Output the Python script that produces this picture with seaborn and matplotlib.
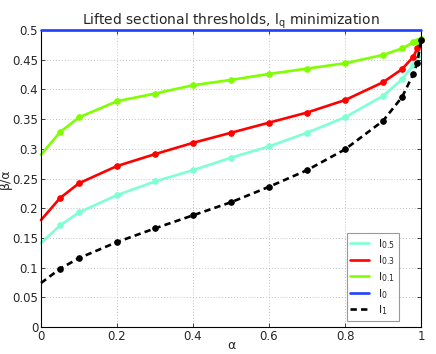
import matplotlib
matplotlib.use("Agg")
import matplotlib.pyplot as plt
import seaborn as sns
import numpy as np
import pandas as pd
from matplotlib.lines import Line2D

alpha = [0.0, 0.05, 0.1, 0.2, 0.3, 0.4, 0.5, 0.6, 0.7, 0.8, 0.9, 0.95, 0.98, 0.99, 1.0]
l05 = [0.141, 0.171, 0.193, 0.222, 0.245, 0.264, 0.285, 0.304, 0.327, 0.353, 0.389, 0.417, 0.441, 0.457, 0.483]
l03 = [0.180, 0.217, 0.242, 0.271, 0.291, 0.310, 0.327, 0.344, 0.361, 0.382, 0.412, 0.434, 0.455, 0.469, 0.483]
l01 = [0.290, 0.328, 0.353, 0.380, 0.393, 0.407, 0.416, 0.426, 0.435, 0.444, 0.458, 0.469, 0.479, 0.482, 0.485]
l0 = [0.5] * len(alpha)
l1 = [0.074, 0.098, 0.116, 0.143, 0.166, 0.188, 0.210, 0.236, 0.264, 0.299, 0.347, 0.387, 0.426, 0.444, 0.483]

labels = ["$l_{0.5}$", "$l_{0.3}$", "$l_{0.1}$", "$l_{0}$", "$l_{1}$"]
colors = ["#7fffd4", "#ff0000", "#7fff00", "#1f3fff", "#000000"]

sns.set_style("ticks")
plt.rcParams["font.family"] = ["DejaVu Sans"]
plt.rcParams["mathtext.default"] = "regular"

fig = plt.figure(figsize=(4.36, 3.54), dpi=100)
ax = fig.add_axes([41/436, 1-327/354, 380/436, 297/354])

dash = (0, (2.4, 1.6))
series = [l05, l03, l01, l0, l1]
for i, (vals, lab, col) in enumerate(zip(series, labels, colors)):
    df = pd.DataFrame({"alpha": alpha, "ratio": vals})
    kw = dict(color=col, linewidth=1.9, ax=ax, legend=False)
    if i == 3:
        sns.lineplot(data=df, x="alpha", y="ratio", clip_on=False, zorder=5, **kw)
    elif i == 4:
        sns.lineplot(data=df, x="alpha", y="ratio", marker="o", markersize=4,
                     markeredgecolor=col, markevery=slice(1, None),
                     linestyle=dash, clip_on=False, zorder=6, **kw)
    else:
        sns.lineplot(data=df, x="alpha", y="ratio", marker="o", markersize=4,
                     markeredgecolor=col, markevery=slice(1, None), clip_on=False, **kw)

ax.set_xlim(0, 1)
ax.set_ylim(0, 0.5)
ax.set_xticks([0, 0.2, 0.4, 0.6, 0.8, 1.0])
ax.set_xticklabels(["0", "0.2", "0.4", "0.6", "0.8", "1"])
yt = np.arange(0, 0.501, 0.05)
ax.set_yticks(yt)
ax.set_yticklabels(["0", "0.05", "0.1", "0.15", "0.2", "0.25", "0.3", "0.35", "0.4", "0.45", "0.5"])
ax.tick_params(direction="in", length=3, labelsize=8.5, top=True, right=True, width=0.6, pad=2)
ax.grid(True, linestyle=(0, (1, 2.5)), color="#b0b0b0", linewidth=0.6)
for s in ax.spines.values():
    s.set_visible(True)
    s.set_linewidth(0.8)
    s.set_color("black")

ax.set_xlabel("α", fontsize=9)
ax.set_ylabel("β/α", fontsize=9)
ax.xaxis.set_label_coords(0.5, -0.042)
ax.yaxis.set_label_coords(-0.076, 0.5)
ax.set_title("Lifted sectional thresholds, $l_q$ minimization", fontsize=10, pad=4)

handles = []
for i, (lab, col) in enumerate(zip(labels, colors)):
    ls = dash if i == 4 else "-"
    handles.append(Line2D([0], [0], color=col, linewidth=1.9, linestyle=ls, label=lab))
leg = ax.legend(handles=handles, loc="lower right", bbox_to_anchor=(0.942, 0.02),
                fontsize=8, frameon=True, fancybox=False, handlelength=1.7,
                labelspacing=0.25, borderpad=0.35, handletextpad=0.8, borderaxespad=0)
leg.get_frame().set_edgecolor("#808080")
leg.get_frame().set_linewidth(0.8)

fig.savefig("out.png", dpi=100)
